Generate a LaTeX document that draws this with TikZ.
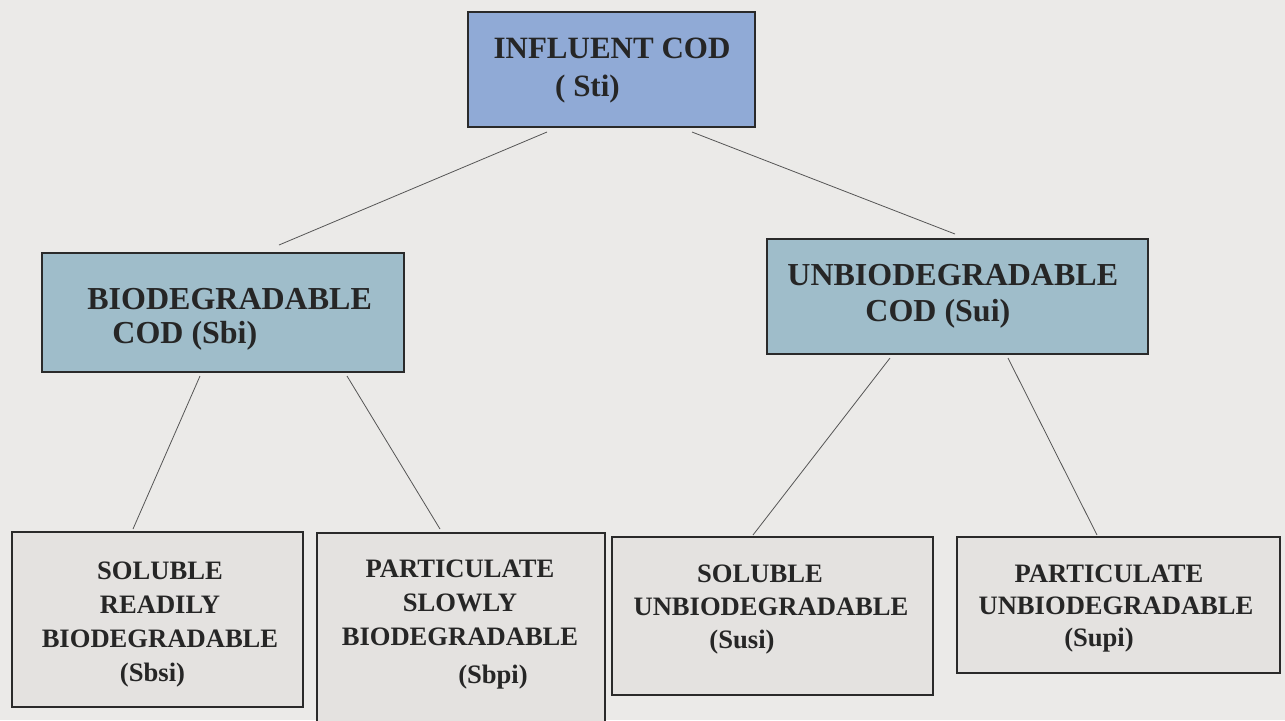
\documentclass[tikz,border=0pt]{standalone}
\usepackage{fontspec}
\setmainfont{Liberation Serif}
\usetikzlibrary{calc}
\definecolor{bgc}{HTML}{EBEAE8}
\definecolor{topc}{HTML}{90AAD6}
\definecolor{midc}{HTML}{9FBDCA}
\definecolor{lowc}{HTML}{E4E2E0}
\definecolor{edgec}{HTML}{2A2A2A}
\definecolor{linec}{HTML}{555555}
\definecolor{txtc}{HTML}{262626}
\tikzset{
  box/.style={draw=edgec, line width=1pt, inner sep=0pt},
  topbox/.style={box, fill=topc},
  midbox/.style={box, fill=midc},
  lowbox/.style={box, fill=lowc},
  txt/.style={inner sep=0pt, text=txtc},
  bigtxt/.style={txt, font=\fontsize{15.5}{19}\selectfont\bfseries},
  lowtxt/.style={txt, align=center},
  conn/.style={draw=linec, line width=0.4pt}
}
\begin{document}
\begin{tikzpicture}[x=0.5pt, y=-0.5pt]
\useasboundingbox (0,0) rectangle (1285,720);
\fill[bgc] (0,0) rectangle (1285,720);
\begin{scope}
\clip (0,0) rectangle (1285,720);
% boxes
\node[topbox, minimum width=143.5pt, minimum height=57.5pt] (top) at (611.5,69.5) {};
\node[midbox, minimum width=181pt, minimum height=59.5pt] (bio) at (223,312.5) {};
\node[midbox, minimum width=190.5pt, minimum height=57.5pt] (unbio) at (957.5,296.5) {};
\node[lowbox, minimum width=145.5pt, minimum height=87.5pt] (b1) at (157.5,619.5) {};
\node[lowbox, minimum width=144pt, minimum height=117pt] (b2) at (461,650) {};
\node[lowbox, minimum width=160.5pt, minimum height=79pt] (b3) at (772.5,616) {};
\node[lowbox, minimum width=161.5pt, minimum height=68pt] (b4) at (1118.5,605) {};
\end{scope}
% texts
\node[bigtxt, align=center] (topt) at (612,70.5)
  {INFLUENT COD\\( Sti)\hspace*{24.5pt}};
\node[txt, align=left, anchor=west, font=\fontsize{16}{17}\selectfont\bfseries] (biot) at (87,319.3)
  {BIODEGRADABLE\\\hspace*{12.5pt}COD (Sbi)};
\node[txt, align=left, anchor=west, font=\fontsize{16}{18}\selectfont\bfseries] (unbiot) at (787,296.3)
  {UNBIODEGRADABLE\\\hspace*{39pt}COD (Sui)};
\node[lowtxt, font=\fontsize{13.3}{17}\selectfont\bfseries] (b1t) at (160,625)
  {SOLUBLE\\READILY\hspace*{3pt}\\BIODEGRADABLE\\(Sbsi)\hspace*{7.5pt}};
\node[lowtxt, font=\fontsize{13.3}{17}\selectfont\bfseries] (b2t) at (460,625)
  {PARTICULATE\\SLOWLY\hspace*{3pt}\\BIODEGRADABLE\\[2pt]\hspace*{33pt}(Sbpi)};
\node[lowtxt, font=\fontsize{13.3}{16.5}\selectfont\bfseries] (b3t) at (771,609.5)
  {SOLUBLE\hspace*{11pt}\\UNBIODEGRADABLE\\(Susi)\hspace*{29pt}};
\node[lowtxt, font=\fontsize{13.3}{16}\selectfont\bfseries] (b4t) at (1116,609)
  {PARTICULATE\hspace*{7pt}\\UNBIODEGRADABLE\\(Supi)\hspace*{17pt}};
% connectors
\draw[conn] ($(top.south)+(-64.5,4)$) -- ($(bio.north)+(56,-7)$);
\draw[conn] ($(top.south)+(80.5,4)$) -- ($(unbio.north)+(-2.5,-4)$);
\draw[conn] ($(bio.south)+(-23,3)$) -- ($(b1.north)+(-24.5,-2)$);
\draw[conn] ($(bio.south)+(124,3)$) -- ($(b2.north)+(-21,-3)$);
\draw[conn] ($(unbio.south)+(-67.5,3)$) -- ($(b3.north)+(-19.5,-1)$);
\draw[conn] ($(unbio.south)+(50.5,3)$) -- ($(b4.north)+(-21.5,-1)$);
\end{tikzpicture}
\end{document}
